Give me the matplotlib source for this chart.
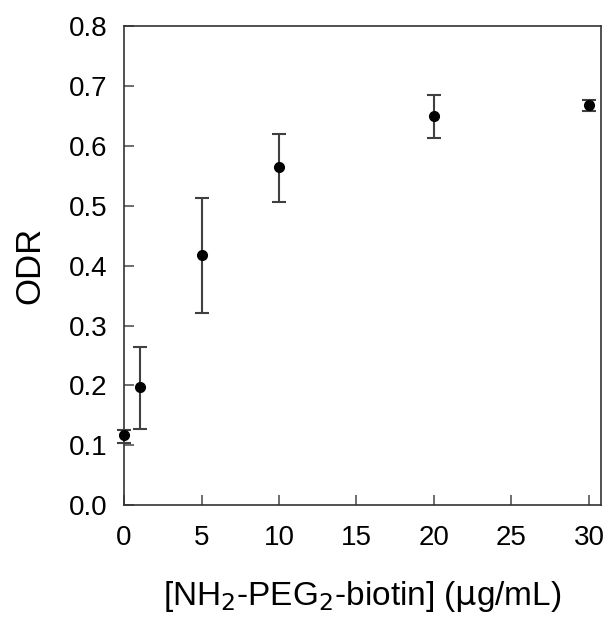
import matplotlib.pyplot as plt

plt.rcParams['font.family'] = ['Liberation Sans', 'DejaVu Sans']

conc = [0, 1, 5, 10, 20, 30]
odr = [0.117, 0.197, 0.418, 0.564, 0.650, 0.669]
err_low = [0.013, 0.070, 0.097, 0.057, 0.037, 0.011]
err_high = [0.008, 0.067, 0.095, 0.056, 0.035, 0.008]

fig = plt.figure(figsize=(6.08, 6.2), dpi=100)
ax = fig.add_axes([0.204, 0.185, 0.785, 0.773])

ax.errorbar(conc, odr, yerr=[err_low, err_high], fmt='o', color='black',
            ecolor='#404040', elinewidth=1.5, capsize=5, capthick=1.5,
            markersize=7, clip_on=False, zorder=3)

ax.set_xlim(0, 30.8)
ax.set_ylim(0, 0.8)
ax.set_xticks([0, 5, 10, 15, 20, 25, 30])
ax.set_yticks([0.0, 0.1, 0.2, 0.3, 0.4, 0.5, 0.6, 0.7, 0.8])
ax.set_yticklabels(['0.0', '0.1', '0.2', '0.3', '0.4', '0.5', '0.6', '0.7', '0.8'])
ax.tick_params(direction='in', length=7, width=1.2, color='#555555',
               labelsize=20)
ax.tick_params(axis='x', pad=14)
ax.tick_params(axis='y', pad=12)
for s in ax.spines.values():
    s.set_linewidth(1.2)
    s.set_color('#333333')

ax.set_xlabel(r'[NH$_2$-PEG$_2$-biotin] ($\mathrm{\mu}$g/mL)', fontsize=24, labelpad=20)
ax.set_ylabel('ODR', fontsize=25, labelpad=16)

fig.savefig('out.png', dpi=100)
